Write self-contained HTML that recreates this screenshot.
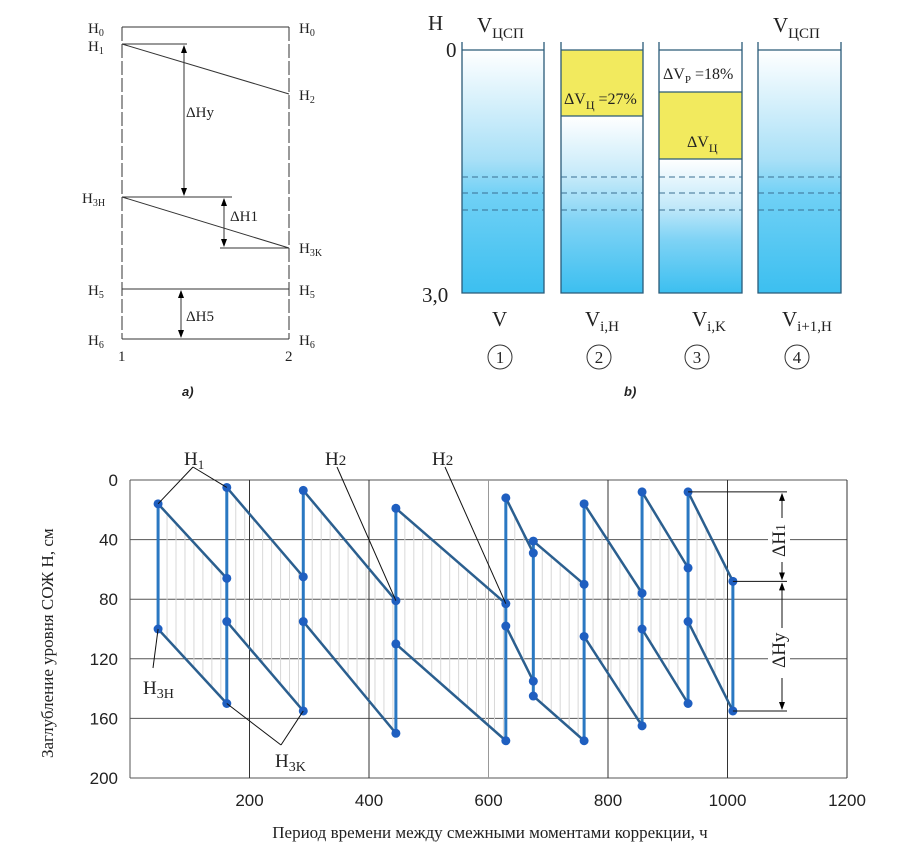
<!DOCTYPE html>
<html><head><meta charset="utf-8"><style>
html,body{margin:0;padding:0;background:#fff}
svg{display:block;font-family:"Liberation Serif",serif}
</style></head><body>
<svg id="root" width="914" height="848" viewBox="0 0 914 848" xmlns="http://www.w3.org/2000/svg">
<defs>
<linearGradient id="gFull" x1="0" y1="0" x2="0" y2="1">
<stop offset="0" stop-color="#ffffff"/><stop offset="0.45" stop-color="#a9e0f7"/><stop offset="0.6" stop-color="#6fd0f5"/><stop offset="1" stop-color="#3cbff0"/></linearGradient>
<linearGradient id="gPart" x1="0" y1="0" x2="0" y2="1">
<stop offset="0" stop-color="#ffffff"/><stop offset="0.35" stop-color="#c3e9f9"/><stop offset="0.6" stop-color="#7fd3f5"/><stop offset="1" stop-color="#3cbff0"/></linearGradient>
<marker id="arr" markerWidth="8" markerHeight="10" refX="7" refY="5" orient="auto-start-reverse" markerUnits="userSpaceOnUse"><path d="M0,2 L8,5 L0,8 Z" fill="#000"/></marker>
</defs>

<g stroke="#333" fill="none" stroke-width="1">
<line x1="122" y1="27" x2="122" y2="339" stroke-dasharray="14,3"/>
<line x1="289" y1="27" x2="289" y2="339" stroke-dasharray="14,3"/>
<line x1="122" y1="27" x2="289" y2="27"/>
<line x1="122" y1="44" x2="187" y2="44"/>
<line x1="122" y1="44" x2="289" y2="94"/>
<line x1="184" y1="46" x2="184" y2="195" marker-start="url(#arr)" marker-end="url(#arr)"/>
<line x1="122" y1="197" x2="232" y2="197"/>
<line x1="122" y1="197" x2="289" y2="248"/>
<line x1="220" y1="248" x2="289" y2="248"/>
<line x1="224" y1="199" x2="224" y2="246" marker-start="url(#arr)" marker-end="url(#arr)"/>
<line x1="122" y1="289" x2="289" y2="289"/>
<line x1="122" y1="339" x2="289" y2="339"/>
<line x1="181" y1="291" x2="181" y2="337" marker-start="url(#arr)" marker-end="url(#arr)"/>
</g>
<g font-size="15" fill="#222">
<text x="88" y="33">H<tspan font-size="10" dy="3">0</tspan></text>
<text x="88" y="51">H<tspan font-size="10" dy="3">1</tspan></text>
<text x="82" y="203">H<tspan font-size="10" dy="3">3H</tspan></text>
<text x="88" y="295">H<tspan font-size="10" dy="3">5</tspan></text>
<text x="88" y="345">H<tspan font-size="10" dy="3">6</tspan></text>
<text x="299" y="33">H<tspan font-size="10" dy="3">0</tspan></text>
<text x="299" y="100">H<tspan font-size="10" dy="3">2</tspan></text>
<text x="299" y="253">H<tspan font-size="10" dy="3">3K</tspan></text>
<text x="299" y="295">H<tspan font-size="10" dy="3">5</tspan></text>
<text x="299" y="345">H<tspan font-size="10" dy="3">6</tspan></text>
<text x="186" y="117">ΔHy</text>
<text x="230" y="221">ΔH1</text>
<text x="186" y="321">ΔH5</text>
<text x="118" y="361">1</text>
<text x="285" y="361">2</text>
<text x="182" y="396" font-family="Liberation Sans,sans-serif" font-style="italic" font-weight="bold" font-size="13">a)</text>
</g>

<g>
<rect x="462" y="50" width="82" height="243" fill="url(#gFull)"/>
<rect x="561" y="116" width="82" height="177" fill="url(#gPart)"/>
<rect x="561" y="50" width="82" height="66" fill="#f2ea5e"/>
<rect x="659" y="159" width="83" height="134" fill="url(#gPart)"/>
<rect x="659" y="92" width="83" height="67" fill="#f2ea5e"/>
<rect x="758" y="50" width="83" height="243" fill="url(#gFull)"/>
<g stroke="#2a5a78" stroke-width="1.3" fill="none">
<path d="M462,42V293H544V42M462,50H544"/>
<path d="M561,42V293H643V42M561,50H643M561,116H643"/>
<path d="M659,42V293H742V42M659,50H742M659,92H742M659,159H742"/>
<path d="M758,42V293H841V42M758,50H841"/>
</g>
<g stroke="#3a6f92" stroke-width="1" stroke-dasharray="6,4">
<path d="M462,177H544M462,193H544M462,210H544"/>
<path d="M561,177H643M561,193H643M561,210H643"/>
<path d="M659,177H742M659,193H742M659,210H742"/>
<path d="M758,177H841M758,193H841M758,210H841"/>
</g>
</g>
<g fill="#222" font-size="21">
<text x="428" y="30">H</text>
<text x="477" y="32">V<tspan font-size="15" dy="6">ЦСП</tspan></text>
<text x="773" y="32">V<tspan font-size="15" dy="6">ЦСП</tspan></text>
<text x="446" y="57">0</text>
<text x="422" y="302">3,0</text>
<text x="564" y="104" font-size="16">ΔV<tspan font-size="12" dy="5">Ц</tspan><tspan dy="-5"> =27%</tspan></text>
<text x="663" y="79" font-size="16">ΔV<tspan font-size="11" dy="4">P</tspan><tspan dy="-4"> =18%</tspan></text>
<text x="687" y="147" font-size="16">ΔV<tspan font-size="12" dy="5">Ц</tspan></text>
<text x="492" y="326">V</text>
<text x="585" y="326">V<tspan font-size="15" dy="5">i,H</tspan></text>
<text x="692" y="326">V<tspan font-size="15" dy="5">i,K</tspan></text>
<text x="782" y="326">V<tspan font-size="15" dy="5">i+1,H</tspan></text>
<g font-size="17" text-anchor="middle">
<circle cx="500" cy="357" r="12" fill="none" stroke="#333"/><text x="500" y="363">1</text>
<circle cx="599" cy="357" r="12" fill="none" stroke="#333"/><text x="599" y="363">2</text>
<circle cx="697" cy="357" r="12" fill="none" stroke="#333"/><text x="697" y="363">3</text>
<circle cx="797" cy="357" r="12" fill="none" stroke="#333"/><text x="797" y="363">4</text>
</g>
<text x="624" y="396" font-family="Liberation Sans,sans-serif" font-style="italic" font-weight="bold" font-size="13">b)</text>
</g>

<g id="chart"></g>
</svg>
<script>
const xTicks = [200,400,600,800,1000,1200];
const yTicks = [0,40,80,120,160,200];
const cycleX = [47,162,290,445,629,675,760,857,934,1009];
const upStart = [16,5,7,19,12,41,16,8,8];
const upEnd = [66,65,81,83,49,70,76,59,68];
const loStart = [100,95,95,110,98,145,105,100,95];
const loEnd = [150,155,170,175,135,175,165,150,155];

const NS = "http://www.w3.org/2000/svg";
const X0=130, X1=847, Y0=480, Y1=778;
const xs = v => X0 + v*(X1-X0)/1200;
const ys = v => Y0 + v*(Y1-Y0)/200;
const chart = document.getElementById('chart');
function mk(tag, attrs, parent){const e=document.createElementNS(NS,tag);for(const k in attrs)e.setAttribute(k,attrs[k]);(parent||chart).appendChild(e);return e;}

yTicks.forEach(t=>{
  const l=mk('line',{x1:X0,x2:X1,y1:ys(t),y2:ys(t),stroke:'#555','stroke-width':1});
  
  
  const tx=mk('text',{x:X0-12,y:ys(t)+6,'text-anchor':'end','font-size':17,'font-family':'Liberation Sans,sans-serif',fill:'#222'});
  tx.textContent=t;
  
  
});
mk('line',{x1:X0,x2:X0,y1:Y0,y2:Y1,stroke:'#555'});
xTicks.forEach(t=>{
  const l=mk('line',{x1:xs(t),x2:xs(t),y1:Y0,y2:Y1,stroke:t===600?'#999':'#333','stroke-width':1});
  
  
  const tx=mk('text',{x:xs(t),y:806,'text-anchor':'middle','font-size':17,'font-family':'Liberation Sans,sans-serif',fill:'#222'});
  tx.textContent=t;
  
  
});

for(let i=0;i<upStart.length;i++){
  const xa=cycleX[i], xb=cycleX[i+1];
  for(let v=xa+15; v<xb-3; v+=15){
    const f=(v-xa)/(xb-xa);
    const u=upStart[i]+(upEnd[i]-upStart[i])*f, lo=loStart[i]+(loEnd[i]-loStart[i])*f;
    const h=mk('line',{x1:xs(v),x2:xs(v),y1:ys(u),y2:ys(lo),stroke:'#d8d8d8','stroke-width':1});
    
    
  }
}
for(let j=0;j<cycleX.length;j++){
  const vals=[];
  if(j<upStart.length){vals.push(upStart[j],loStart[j]);}
  if(j>0){vals.push(upEnd[j-1],loEnd[j-1]);}
  const v=mk('line',{x1:xs(cycleX[j]),x2:xs(cycleX[j]),y1:ys(Math.min(...vals)),y2:ys(Math.max(...vals)),stroke:'#2a78c2','stroke-width':3});
  
  
}
for(let i=0;i<upStart.length;i++){
  const a=mk('line',{x1:xs(cycleX[i]),y1:ys(upStart[i]),x2:xs(cycleX[i+1]),y2:ys(upEnd[i]),stroke:'#2b5f8f','stroke-width':2.5});
  
  
  const b=mk('line',{x1:xs(cycleX[i]),y1:ys(loStart[i]),x2:xs(cycleX[i+1]),y2:ys(loEnd[i]),stroke:'#2b5f8f','stroke-width':2.5});
  
  
}
for(let i=0;i<upStart.length;i++){
  [[cycleX[i],upStart[i]],[cycleX[i],loStart[i]],[cycleX[i+1],upEnd[i]],[cycleX[i+1],loEnd[i]]].forEach(p=>{
    const c=mk('circle',{cx:xs(p[0]),cy:ys(p[1]),r:4.5,fill:'#1f5fc0'});
    
    
  });
}
const ann=mk('g',{stroke:'#111','stroke-width':1,fill:'none'});


function ln(x1,y1,x2,y2,extra){const l=mk('line',Object.assign({x1,y1,x2,y2},extra||{}),ann);return l;}
ln(193,467,xs(cycleX[0]),ys(upStart[0]));
ln(193,467,xs(cycleX[1]),ys(upStart[1]));
ln(337,467,xs(cycleX[3]),ys(upEnd[2]));
ln(445,467,xs(cycleX[4]),ys(upEnd[3]));
ln(153,668,xs(cycleX[0]),ys(loStart[0]));
ln(281,745,xs(cycleX[1]),ys(loEnd[0]));
ln(281,745,xs(cycleX[2]),ys(loEnd[1]));
ln(xs(cycleX[8]),ys(upStart[8]),787,ys(upStart[8]));
ln(xs(cycleX[9]),ys(upEnd[8]),787,ys(upEnd[8]));
ln(xs(cycleX[9]),ys(loEnd[8]),787,ys(loEnd[8]));
ln(782,ys(upStart[8])+2,782,ys(upEnd[8])-2,{'marker-start':'url(#arr)','marker-end':'url(#arr)'});
ln(782,ys(upEnd[8])+2,782,ys(loEnd[8])-2,{'marker-start':'url(#arr)','marker-end':'url(#arr)'});
mk('rect',{x:768,y:518,width:22,height:44,fill:'#fff'});
mk('rect',{x:768,y:628,width:22,height:50,fill:'#fff'});
function txt(x,y,html,extra){const t=mk('text',Object.assign({x,y,'font-size':19,fill:'#222'},extra||{}));t.innerHTML=html;return t;}
let t;
t=txt(184,465,'H<tspan font-size="13" dy="4">1</tspan>');
t=txt(325,465,'H<tspan font-size="15">2</tspan>');
t=txt(432,465,'H<tspan font-size="15">2</tspan>');
t=txt(143,694,'H<tspan font-size="14" dy="4">3H</tspan>');
t=txt(275,767,'H<tspan font-size="14" dy="4">3K</tspan>');
t=txt(0,0,'ΔH<tspan font-size="14">1</tspan>',{transform:'translate(785,557) rotate(-90)'});
t=txt(0,0,'ΔHy',{transform:'translate(785,668) rotate(-90)'});
t=txt(0,0,'Заглубление уровня СОЖ Н, см',{transform:'translate(53,758) rotate(-90)','font-size':17});
t=txt(490,838,'Период времени между смежными моментами коррекции, ч',{'text-anchor':'middle','font-size':17});
</script>
</body></html>
